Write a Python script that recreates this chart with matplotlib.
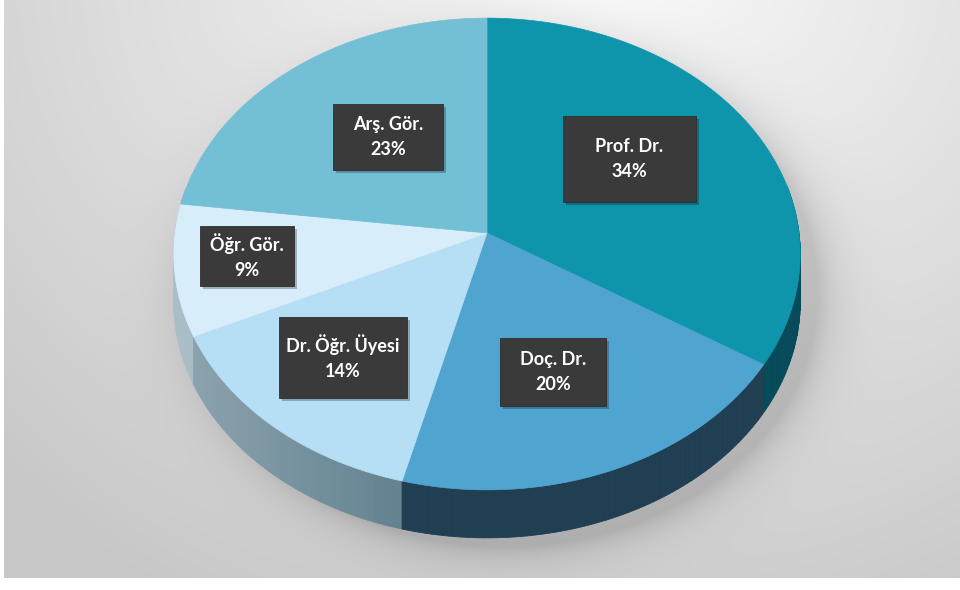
import numpy as np
import matplotlib.pyplot as plt
from matplotlib.patches import Polygon, Rectangle
from matplotlib.colors import to_rgb

# data
labels = ['Prof. Dr.', 'Doç. Dr.', 'Dr. Öğr. Üyesi', 'Öğr. Gör.', 'Arş. Gör.']
shares = [34, 20, 14, 9, 23]
top_colors = ['#0f95ab', '#4fa5cf', '#b6def4', '#d7edfa', '#72bfd6']
side_colors = ['#074a5a', '#203f52', '#527585', '#7c9cab', '#3d6a7a']

# label boxes (center x, center y, width, height) in pixels
box_pos = [(629, 159), (553, 372), (343, 357), (247, 256), (388, 137)]
box_size = [(133, 86), (106, 68), (128, 81), (94, 60), (110, 66)]

# pie geometry (pixels)
cx, cy = 487, 233
rx, ry = 312, 234
k = 0.089          # perspective factor
depth = 48


def project(theta, dy=0.0):
    u = np.sin(theta)
    v = -np.cos(theta)
    s = 1.0 / (1.0 - k * v)
    return cx + rx * u * s, cy + ry * v * s + dy


fig = plt.figure(figsize=(9.6, 5.9), dpi=100)
ax = fig.add_axes([0, 0, 1, 1])
ax.set_xlim(0, 960)
ax.set_ylim(590, 0)
ax.axis('off')

# background panel gradient
W, H = 956, 578
xx, yy = np.meshgrid(np.arange(W) + 4, np.arange(H))
d = np.sqrt(((xx - 600) / 700.0) ** 2 + ((yy + 40) / 620.0) ** 2)
bg = 0.985 - 0.17 * np.clip(d, 0, 1.2)

# soft shadow around the pie
r = np.sqrt(((xx - 505) / 322.0) ** 2 + ((yy - 292) / 262.0) ** 2)
sh = np.exp(-np.clip(r - 0.97, 0, None) / 0.07) * 0.14
bg = np.clip(bg - sh, 0, 1)
img = np.dstack([bg, bg, bg * 1.005])
ax.imshow(np.clip(img, 0, 1), extent=(4, 960, 578, 0), aspect='auto', zorder=0)

# slice angles (clockwise from top)
fr = np.cumsum([0] + shares) / float(sum(shares))
angles = fr * 2 * np.pi

# side of the cylinder, drawn back to front in thin segments
segs = []
for i in range(len(shares)):
    a0, a1 = angles[i], angles[i + 1]
    n = max(int((a1 - a0) / (2 * np.pi) * 360), 2)
    t = np.linspace(a0, a1, n + 1)
    for j in range(n):
        ta, tb = t[j], t[j + 1]
        if -np.cos((ta + tb) / 2) < -0.2:
            continue
        segs.append((-np.cos((ta + tb) / 2), i, ta, tb))
segs.sort()
for v, i, ta, tb in segs:
    xa, ya = project(ta)
    xb, yb = project(tb)
    base = np.array(to_rgb(side_colors[i]))
    xm = (xa + xb) / 2
    light = 0.35 * np.clip((cx - xm) / rx, 0, 1) if i >= 2 else 0.0
    col = base + (1 - base) * light
    quad = [(xa, ya), (xb, yb), (xb, yb + depth), (xa, ya + depth)]
    ax.add_patch(Polygon(quad, closed=True, facecolor=col, edgecolor=col,
                         linewidth=0.6, zorder=2))

# top face
for i in range(len(shares)):
    t = np.linspace(angles[i], angles[i + 1], 200)
    px, py = project(t)
    pts = [(cx, cy)] + list(zip(px, py))
    ax.add_patch(Polygon(pts, closed=True, facecolor=top_colors[i],
                         edgecolor=top_colors[i], linewidth=0.5, zorder=3))

# labels
for i, lab in enumerate(labels):
    bx, by = box_pos[i]
    bw, bh = box_size[i]
    ax.add_patch(Rectangle((bx - bw / 2 + 3, by - bh / 2 + 3), bw, bh,
                           facecolor='#000000', alpha=0.25, zorder=4))
    ax.add_patch(Rectangle((bx - bw / 2, by - bh / 2), bw, bh,
                           facecolor='#3a3a3a', edgecolor='#2e2e2e',
                           linewidth=0.6, zorder=5))
    ax.text(bx, by, '%s\n%d%%' % (lab, shares[i]), ha='center', va='center',
            color='white', fontsize=13, fontweight='bold', family='Lato',
            linespacing=1.55, zorder=6)

fig.savefig('out.png', dpi=100, facecolor='white')
